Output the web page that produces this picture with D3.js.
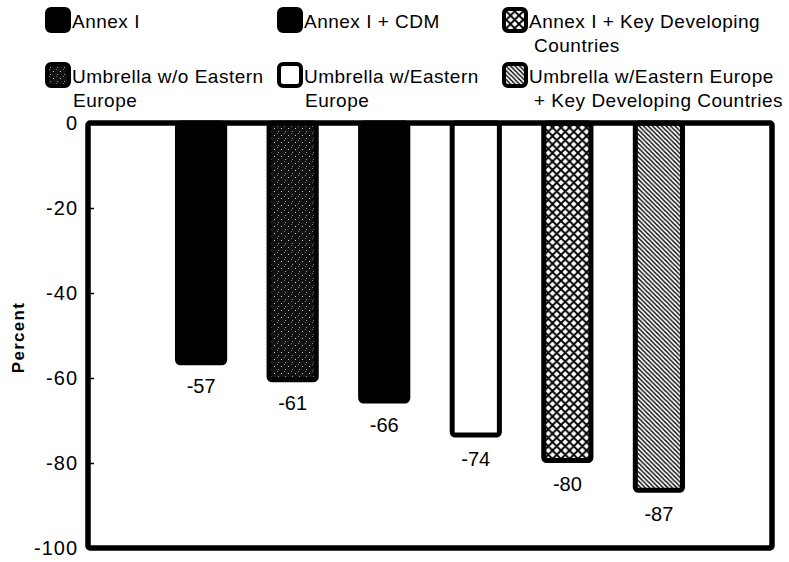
<!DOCTYPE html>
<html><head><meta charset="utf-8">
<script src="https://cdn.jsdelivr.net/npm/d3@7"></script>
<style>body{margin:0;background:#fff}svg{display:block}text{font-family:"Liberation Sans",Arial,Helvetica,sans-serif;fill:#000}</style>
</head><body><svg id="c" width="789" height="562"></svg>
<script>
const categories = ["Annex I","Umbrella w/o Eastern Europe","Annex I + CDM","Umbrella w/Eastern Europe","Annex I + Key Developing Countries","Umbrella w/Eastern Europe + Key Developing Countries"];
const values = [-57,-61,-66,-74,-80,-87];
const fills = ["black","stipple","black","white","cross","diag"];
const yTicks = [0,-20,-40,-60,-80,-100];
const legendOrder = [0,2,4,1,3,5];
const legendLines = [["Annex I"],["Umbrella w/o Eastern","Europe"],["Annex I + CDM"],["Umbrella w/Eastern","Europe"],["Annex I + Key Developing","Countries"],["Umbrella w/Eastern Europe","+ Key Developing Countries"]];
const yLabel = "Percent";

const svg = d3.select("#c");
const defs = svg.append("defs");
// stipple
const ps = defs.append("pattern").attr("id","stipple").attr("patternUnits","userSpaceOnUse").attr("width",7).attr("height",7);
ps.append("rect").attr("width",7).attr("height",7).attr("fill","#111");
ps.append("rect").attr("x",1).attr("y",2).attr("width",1).attr("height",1).attr("fill","#ccc");
ps.append("rect").attr("x",5).attr("y",5).attr("width",1).attr("height",1).attr("fill","#999");
ps.append("rect").attr("x",4).attr("y",0).attr("width",1).attr("height",1).attr("fill","#777");
// crosshatch
const P = 8.5;
const pc = defs.append("pattern").attr("id","cross").attr("patternUnits","userSpaceOnUse").attr("width",P).attr("height",P);
pc.append("rect").attr("width",P).attr("height",P).attr("fill","#fff");
pc.append("path").attr("d",`M0,0L${P},${P}M${P},0L0,${P}M${-P/2},${P/2}L${P/2},${-P/2}M${P/2},${1.5*P}L${1.5*P},${P/2}M${-P/2},${P/2}L${P/2},${1.5*P}M${P/2},${-P/2}L${1.5*P},${P/2}`)
  .attr("stroke","#000").attr("stroke-width",1.9);
// diagonal
const pd = defs.append("pattern").attr("id","diag").attr("patternUnits","userSpaceOnUse").attr("width",4.5).attr("height",4.5);
pd.append("rect").attr("width",4.5).attr("height",4.5).attr("fill","#fff");
pd.append("path").attr("d","M0,0L4.5,4.5M-2.25,2.25L2.25,6.75M2.25,-2.25L6.75,2.25").attr("stroke","#000").attr("stroke-width",1.4);

const fillOf = f => f==="black" ? "#000" : f==="white" ? "#fff" : `url(#${f})`;

const frame = {l:88, r:772, t:123, b:548};
const x = d3.scaleBand().domain(categories).range([frame.l, frame.r]).paddingInner(0.43).paddingOuter(0.95);
const y = d3.scaleLinear().domain([0,-100]).range([frame.t, frame.b]);

// bars
const sw = 5;
svg.append("g").selectAll("rect").data(categories).join("rect")
  .attr("x", d => x(d)+sw/2)
  .attr("y", y(0))
  .attr("width", x.bandwidth()-sw)
  .attr("height", (d,i) => y(values[i]) - y(0) - sw/2)
  .attr("rx",3)
  .attr("fill",(d,i)=>fillOf(fills[i]))
  .attr("stroke","#000").attr("stroke-width",sw);

// value labels
svg.append("g").selectAll("text").data(categories).join("text")
  .attr("x", d => x(d)+x.bandwidth()/2)
  .attr("y", (d,i) => y(values[i]) + 28)
  .attr("text-anchor","middle").attr("font-size",20)
  .text((d,i)=>values[i]);

// frame
svg.append("rect").attr("x",frame.l).attr("y",frame.t).attr("width",frame.r-frame.l).attr("height",frame.b-frame.t)
  .attr("fill","none").attr("stroke","#000").attr("stroke-width",5.5).attr("rx",2);

// y axis
const ax = svg.append("g").attr("transform",`translate(${frame.l},0)`)
  .call(d3.axisRight(y).tickValues(yTicks).tickSize(6).tickFormat(""));
ax.select(".domain").remove();
ax.selectAll("line").attr("stroke-width",1.5);
svg.append("g").selectAll("text").data(yTicks).join("text")
  .attr("x",78).attr("y",d=>y(d)+7).attr("text-anchor","end").attr("font-size",20)
  .attr("letter-spacing",1).text(d=>d);

svg.append("text").attr("transform",`translate(24,${(frame.t+frame.b)/2+2}) rotate(-90)`)
  .attr("text-anchor","middle").attr("font-size",17).attr("font-weight","bold").attr("letter-spacing",1.3).text(yLabel);

// legend
const colX = [45,277,502];
const rowY = [7,62];
const lg = svg.append("g");
legendOrder.forEach((ci, k) => {
  const col = k%3, row = Math.floor(k/3);
  const gx = colX[col], gy = rowY[row];
  const g = lg.append("g").attr("transform",`translate(${gx},${gy})`);
  g.append("rect").attr("x",2).attr("y",2).attr("width",22).attr("height",22).attr("rx",4)
    .attr("fill",fillOf(fills[ci])).attr("stroke","#000").attr("stroke-width",4);
  legendLines[ci].forEach((ln,j)=>{
    g.append("text").attr("x", 27 + (j>0 ? (col===2?5:1) : 0)).attr("y", 21 + j*24)
      .attr("font-size",19).attr("letter-spacing",0.5).text(ln);
  });
});
</script></body></html>
